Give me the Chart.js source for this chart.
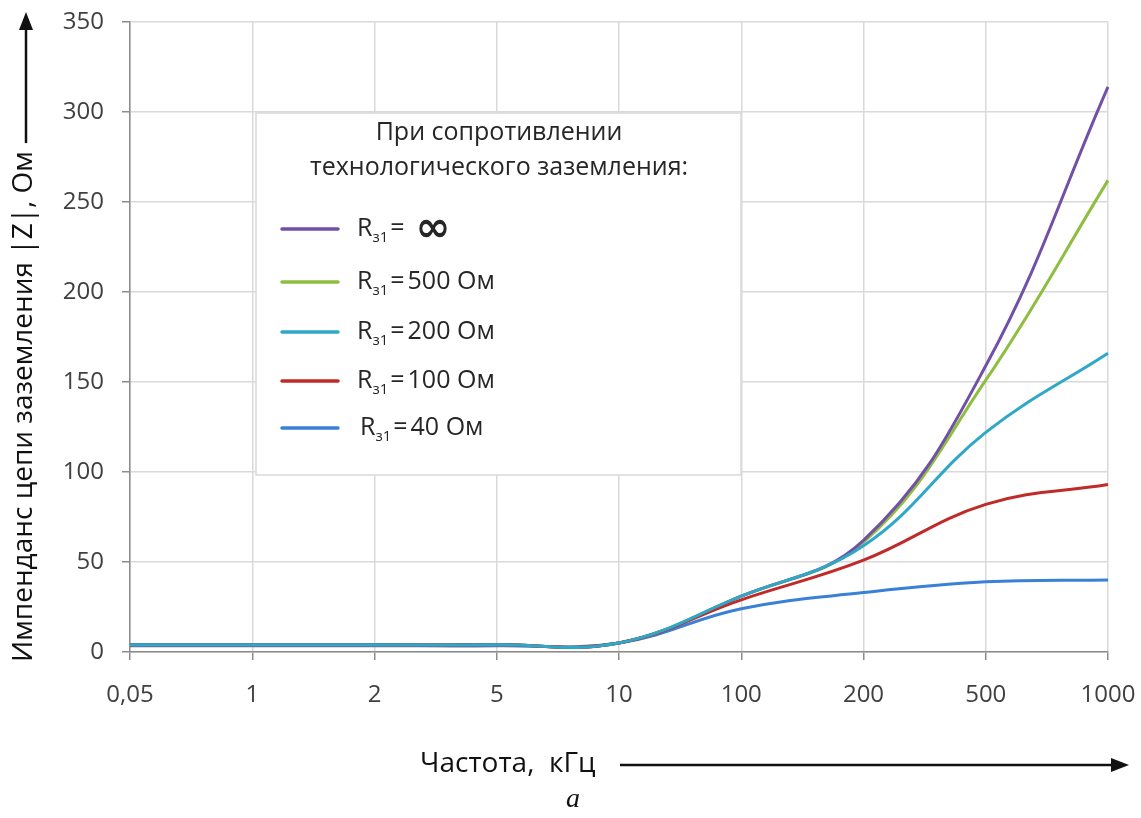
<!DOCTYPE html>
<html>
<head>
<meta charset="utf-8">
<script src="https://cdn.jsdelivr.net/npm/chart.js@4.4.1/dist/chart.umd.min.js"></script>
<style>
  html, body { margin: 0; padding: 0; background: #ffffff; }
  #wrap { width: 1141px; height: 818px; position: relative; }
</style>
</head>
<body>
<div id="wrap"><canvas id="chart" width="1141" height="818"></canvas></div>
<script>
// Frequency categories, kHz (evenly spaced on the axis)
const frequencies = ['0,05', '1', '2', '5', '10', '100', '200', '500', '1000'];

// Earth-circuit impedance |Z|, Ohm, for each process-earthing resistance
const zInfinite = [4, 4, 4, 4, 5, 31, 62, 159, 314];
const z500 = [4, 4, 4, 4, 5, 31, 61, 151, 262];
const z200 = [4, 4, 4, 4, 5, 31, 59, 122, 166];
const z100 = [4, 4, 4, 4, 5, 29, 51, 82, 93];
const z40 = [3.5, 3.5, 3.5, 3.5, 5, 24, 33, 39, 40];

// Legend text pieces: value after "Rз1"
const seriesValues = ['= ∞', '= 500 Ом', '= 200 Ом', '= 100 Ом', '= 40 Ом'];
const legendTitle = ['При сопротивлении', 'технологического заземления:'];

const yAxisTitle = 'Импенданс цепи заземления |Z|, Ом';
const xAxisTitle = 'Частота,  кГц';
const caption = 'а';

const FONT = '"Open Sans", "Noto Sans", sans-serif';

const colors = ['#7150a6', '#8fbd3f', '#2fa8c8', '#c02a28', '#3a80d6'];
const seriesData = [zInfinite, z500, z200, z100, z40];
const drawOrder = [2, 3, 0, 1, 4];

const datasets = seriesData.map((d, i) => ({
  label: 'Rз1 ' + seriesValues[i],
  data: d,
  borderColor: colors[i],
  backgroundColor: colors[i],
  borderWidth: 3,
  pointRadius: 0,
  pointHoverRadius: 0,
  tension: 0.4,
  fill: false,
  order: drawOrder[i]
}));

function arrowHead(ctx, tipX, tipY, dir, len, half) {
  ctx.beginPath();
  if (dir === 'up') {
    ctx.moveTo(tipX, tipY);
    ctx.lineTo(tipX - half, tipY + len);
    ctx.lineTo(tipX + half, tipY + len);
  } else {
    ctx.moveTo(tipX, tipY);
    ctx.lineTo(tipX - len, tipY - half);
    ctx.lineTo(tipX - len, tipY + half);
  }
  ctx.closePath();
  ctx.fill();
}

// Axis titles with long arrows, and the figure letter
const axisArrows = {
  id: 'axisArrows',
  afterDraw(chart) {
    const ctx = chart.ctx;
    ctx.save();
    ctx.fillStyle = '#111111';
    ctx.strokeStyle = '#111111';

    // vertical title, reading bottom-to-top
    ctx.font = '28px ' + FONT;
    ctx.textBaseline = 'middle';
    ctx.textAlign = 'left';
    const yx = 24, yStart = 662;
    const w = ctx.measureText(yAxisTitle).width;
    ctx.save();
    ctx.translate(yx, yStart);
    ctx.rotate(-Math.PI / 2);
    ctx.fillText(yAxisTitle, 0, 0);
    ctx.restore();
    ctx.lineWidth = 2.5;
    ctx.beginPath();
    ctx.moveTo(yx + 2, yStart - w - 8);
    ctx.lineTo(yx + 2, 30);
    ctx.stroke();
    arrowHead(ctx, yx + 2, 12, 'up', 18, 7);

    // horizontal title and arrow
    ctx.font = '28px ' + FONT;
    ctx.textAlign = 'left';
    ctx.fillText(xAxisTitle, 420, 764);
    ctx.beginPath();
    ctx.moveTo(620, 765);
    ctx.lineTo(1112, 765);
    ctx.stroke();
    arrowHead(ctx, 1129, 765, 'right', 18, 7);

    // figure letter
    ctx.font = 'italic 28px "Liberation Serif", "DejaVu Serif", serif';
    ctx.textAlign = 'center';
    ctx.fillText(caption, 573, 800);
    ctx.restore();
  }
};

// Boxed legend with subscripted labels
const boxLegend = {
  id: 'boxLegend',
  afterDatasetsDraw(chart) {
    const ctx = chart.ctx;
    const box = { x: 256, y: 113, w: 485, h: 362 };
    ctx.save();
    ctx.fillStyle = '#ffffff';
    ctx.fillRect(box.x, box.y, box.w, box.h);
    ctx.strokeStyle = '#d9d9d9';
    ctx.lineWidth = 1.5;
    ctx.strokeRect(box.x, box.y, box.w, box.h);

    ctx.fillStyle = '#262626';
    ctx.textBaseline = 'middle';
    ctx.textAlign = 'center';
    ctx.font = '25px ' + FONT;
    ctx.fillText(legendTitle[0], 499, 133);
    ctx.fillText(legendTitle[1], 499, 168);

    const rowsY = [229, 282, 332, 381, 428];
    chart.data.datasets.forEach((ds, i) => {
      const y = rowsY[i];
      ctx.strokeStyle = ds.borderColor;
      ctx.lineWidth = 3.5;
      ctx.lineCap = 'round';
      ctx.beginPath();
      ctx.moveTo(282, y);
      ctx.lineTo(338, y);
      ctx.stroke();

      const label = ds.label;
      const base = label.charAt(0);
      const sub = label.substring(1, 3);
      const rest = label.substring(4);
      ctx.fillStyle = '#262626';
      ctx.textAlign = 'left';
      let x = i === 4 ? 360 : 357;
      ctx.font = '25px ' + FONT;
      ctx.fillText(base, x, y);
      x += ctx.measureText(base).width;
      ctx.font = '15px ' + FONT;
      ctx.fillText(sub, x, y + 9);
      x += ctx.measureText(sub).width + 2;
      ctx.font = '25px ' + FONT;
      const eq = rest.substring(0, 1);
      ctx.fillText(eq, x, y);
      x += ctx.measureText(eq).width + 3;
      const val = rest.substring(2);
      if (val === '∞') {
        ctx.font = 'bold 42px "DejaVu Sans", ' + FONT;
        ctx.fillText(val, x + 8, y + 1);
      } else {
        ctx.fillText(val, x, y);
      }
    });
    ctx.restore();
  }
};

new Chart(document.getElementById('chart'), {
  type: 'line',
  data: { labels: frequencies, datasets: datasets },
  options: {
    responsive: false,
    animation: false,
    devicePixelRatio: 1,
    layout: { padding: { top: 22, right: 33, bottom: 106, left: 0 } },
    plugins: {
      legend: { display: false },
      tooltip: { enabled: false },
      title: { display: false }
    },
    scales: {
      x: {
        type: 'category',
        offset: false,
        grid: {
          color: '#d9d9d9',
          lineWidth: 1.5,
          tickLength: 8,
          tickColor: '#8c8c8c',
          tickWidth: 1.5
        },
        border: { color: '#8c8c8c', width: 1.5 },
        ticks: {
          color: '#404040',
          font: { family: FONT, size: 24 },
          padding: 21,
          maxRotation: 0,
          autoSkip: false
        },
        afterFit(scale) {
          scale.height = 60;
          scale.paddingLeft = 0;
          scale.paddingRight = 0;
        }
      },
      y: {
        min: 0,
        max: 350,
        grid: {
          color: '#d9d9d9',
          lineWidth: 1.5,
          tickLength: 8,
          tickColor: '#8c8c8c',
          tickWidth: 1.5
        },
        border: { color: '#8c8c8c', width: 1.5 },
        ticks: {
          stepSize: 50,
          color: '#404040',
          font: { family: FONT, size: 24 },
          padding: 18
        },
        afterFit(scale) {
          scale.width = 130;
          scale.paddingTop = 0;
          scale.paddingBottom = 0;
        }
      }
    }
  },
  plugins: [boxLegend, axisArrows]
});
</script>
</body>
</html>
